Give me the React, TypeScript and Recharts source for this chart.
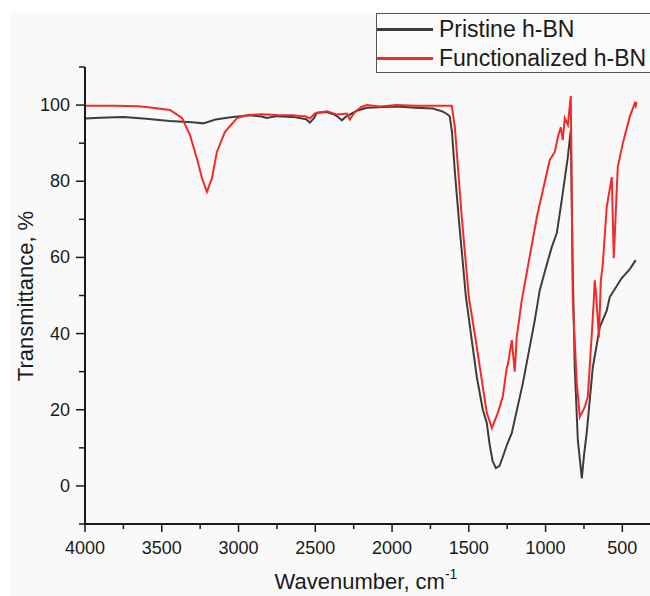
import { LineChart, Line, XAxis, YAxis, Legend, Label } from "recharts";

// Wavenumber (cm-1) and transmittance (%)
const pristineWn = [
  4000, 3900, 3750, 3600, 3450, 3300, 3230, 3150, 3050, 2926, 2850, 2815, 2750,
  2646, 2560, 2535, 2510, 2490, 2424, 2380, 2350, 2327, 2300, 2229, 2164, 2050,
  1969, 1850, 1734, 1669, 1640, 1624, 1610, 1590, 1565, 1540, 1520, 1490, 1448,
  1409, 1383, 1365, 1345, 1324, 1300, 1279, 1250, 1220, 1148, 1070, 1038, 1000,
  960, 927, 895, 855, 836, 825, 810, 790, 764, 750, 732, 693, 647, 602, 582, 504,
  450, 413,
];
const pristineT = [
  96.5, 96.7, 96.9, 96.4, 95.8, 95.5, 95.2, 96.2, 96.8, 97.3, 97.0, 96.6, 97.1,
  96.9, 96.3, 95.4, 96.5, 98.0, 98.2, 97.6, 96.8, 96.0, 97.0, 98.5, 99.3, 99.5,
  99.6, 99.3, 99.1, 98.3, 97.6, 97.0, 93, 82, 70, 59, 50, 41, 28.6, 20,
  16.5, 11, 6.5, 4.7, 5.3, 7.6, 11, 13.9, 27, 43.6, 51.4, 57, 62.7, 66.4, 75,
  86.4, 93.4, 60, 31, 12, 2, 8, 14, 31, 41.7, 46, 49.6, 54.6, 57, 59.3,
];

const funcWn = [
  4000, 3800, 3650, 3560, 3447, 3368, 3316, 3271, 3238, 3206, 3173, 3141, 3089,
  3010, 2939, 2850, 2750, 2650, 2560, 2535, 2503, 2424, 2359, 2294, 2275, 2242,
  2200, 2164, 2080, 1969, 1850, 1700, 1630, 1611, 1591, 1546, 1500, 1448, 1409,
  1383, 1350, 1311, 1279, 1253, 1245, 1220, 1201, 1188, 1155, 1057, 973, 940,
  920, 901, 888, 875, 855, 836, 829, 823, 797, 777, 745, 725, 699, 686, 680, 670,
  653, 640, 628, 602, 569, 556, 530, 497, 452, 419, 413, 408,
];
const funcT = [
  99.8, 99.8, 99.7, 99.3, 98.7, 96.6, 92.1, 86, 80.8, 77.2, 80.8, 87.7, 92.9,
  96.6, 97.4, 97.6, 97.4, 97.3, 97.0, 96.5, 97.8, 98.4, 97.5, 97.8, 96.2, 98.2,
  99.5, 100, 99.6, 100, 99.8, 99.8, 99.8, 99.8, 94.2, 70.6, 49.6, 36.5, 26,
  19.2, 15.2, 19.2, 23.4, 31, 32, 38.3, 30, 39.1, 48.8, 70.6, 85.6, 87.7, 91.6,
  94.2, 90.8, 96.6, 94.8, 102.4, 75, 48.8, 27, 18.1, 20.7, 23.4, 40, 48.8, 54,
  50, 39, 54, 58, 73.2, 81.1, 59.8, 83.7, 90, 96.9, 100.5, 99.8, 100.8,
];

const xTicks = [
  4000, 3750, 3500, 3250, 3000, 2750, 2500, 2250, 2000, 1750, 1500, 1250, 1000,
  750, 500,
];
const yTicks = [-10, 0, 10, 20, 30, 40, 50, 60, 70, 80, 90, 100, 110];

const seriesNames = ["Pristine h-BN", "Functionalized h-BN"];
const COLORS = ["#3d3d3d", "#f42a2a"];
const FONT = "'Liberation Sans', Arial, sans-serif";
const INK = "#1a1a1a";

const pristine = pristineWn.map((wn, i) => ({ wn, t: pristineT[i] }));
const functionalized = funcWn.map((wn, i) => ({ wn, t: funcT[i] }));

function XTick({ x, y, payload }: any) {
  const major = payload.value % 500 === 0;
  return (
    <g>
      <line x1={x} x2={x} y1={y} y2={y + (major ? 8 : 5)} stroke={INK} strokeWidth={1.5} />
      {major && (
        <text x={x} y={y + 30} textAnchor="middle" fontSize={18} fontFamily={FONT} fill={INK}>
          {payload.value}
        </text>
      )}
    </g>
  );
}

function YTick({ x, y, payload }: any) {
  const v = payload.value;
  const major = v >= 0 && v <= 100 && v % 20 === 0;
  return (
    <g>
      <line x1={x} x2={x - (major ? 9 : 6)} y1={y} y2={y} stroke={INK} strokeWidth={1.5} />
      {major && (
        <text x={x - 15} y={y + 6} textAnchor="end" fontSize={18} fontFamily={FONT} fill={INK}>
          {v}
        </text>
      )}
    </g>
  );
}

function LegendBox() {
  return (
    <div
      style={{
        width: 290,
        height: 60,
        border: "1.5px solid #555",
        background: "#fafafa",
        fontFamily: FONT,
        fontSize: 23,
        color: INK,
        boxSizing: "border-box",
        paddingTop: 1,
      }}
    >
      {seriesNames.map((name, idx) => (
        <div key={name} style={{ display: "flex", alignItems: "center", height: 29 }}>
          <div style={{ width: 56, height: 2.5, background: COLORS[idx], marginRight: 6 }} />
          <span style={{ whiteSpace: "nowrap" }}>{name}</span>
        </div>
      ))}
    </div>
  );
}

export default function App() {
  return (
    <div
      style={{
        position: "absolute",
        left: 0,
        top: 0,
        width: 650,
        height: 596,
        overflow: "hidden",
        background: "#ffffff",
      }}
    >
      <div
        style={{
          position: "absolute",
          left: 10,
          top: 12,
          width: 640,
          height: 584,
          background: "#f9f9f9",
        }}
      />
      <LineChart
        width={650}
        height={596}
        margin={{ top: 67, right: 0, left: 0, bottom: 0 }}
        style={{ position: "absolute", left: 0, top: 0 }}
      >
        <XAxis
          type="number"
          dataKey="wn"
          domain={[320, 4000]}
          reversed
          ticks={xTicks}
          interval={0}
          height={72}
          tickSize={0}
          tickMargin={0}
          tick={<XTick />}
          axisLine={{ stroke: INK, strokeWidth: 2 }}
          allowDataOverflow
        >
          <Label
            content={() => (
              <text x={366} y={589} textAnchor="middle" fontSize={22} fontFamily={FONT} fill={INK}>
                Wavenumber, cm
                <tspan fontSize={14} dy={-10}>-1</tspan>
              </text>
            )}
          />
        </XAxis>
        <YAxis
          type="number"
          domain={[-10, 110]}
          ticks={yTicks}
          interval={0}
          width={85}
          tickSize={0}
          tickMargin={0}
          tick={<YTick />}
          axisLine={{ stroke: INK, strokeWidth: 2 }}
          allowDataOverflow
        >
          <Label
            content={() => (
              <text
                x={33}
                y={296}
                transform="rotate(-90 33 296)"
                textAnchor="middle"
                fontSize={22}
                fontFamily={FONT}
                fill={INK}
              >
                Transmittance, %
              </text>
            )}
          />
        </YAxis>
        <Legend
          layout="horizontal"
          verticalAlign="middle"
          align="center"
          content={() => <LegendBox />}
          wrapperStyle={{ position: "absolute", left: 376, top: 13, width: 290, height: 60 }}
        />
        <Line
          data={pristine}
          dataKey="t"
          name={seriesNames[0]}
          type="linear"
          stroke={COLORS[0]}
          strokeWidth={2}
          dot={false}
          isAnimationActive={false}
        />
        <Line
          data={functionalized}
          dataKey="t"
          name={seriesNames[1]}
          type="linear"
          stroke={COLORS[1]}
          strokeWidth={2}
          dot={false}
          isAnimationActive={false}
        />
      </LineChart>
    </div>
  );
}
